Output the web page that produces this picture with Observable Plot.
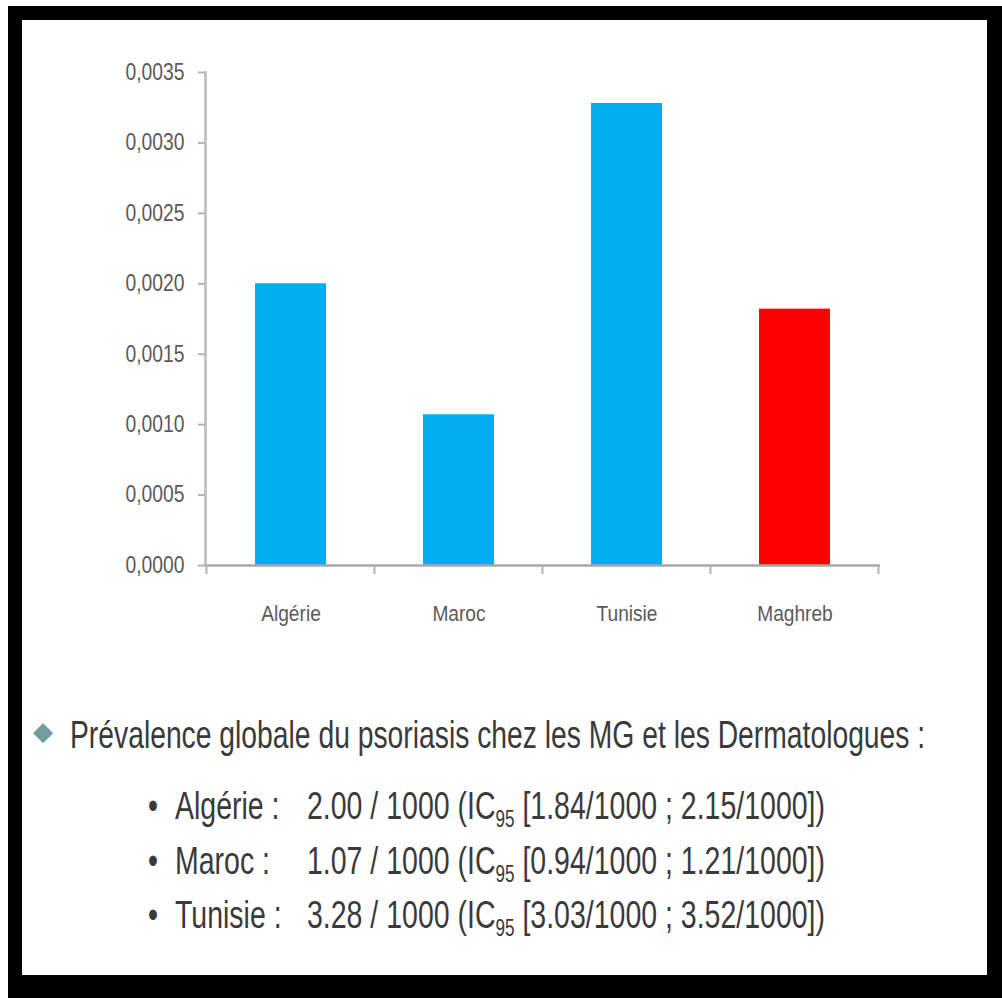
<!DOCTYPE html>
<html lang="fr">
<head>
<meta charset="utf-8">
<script src="https://cdn.jsdelivr.net/npm/d3@7"></script>
<script src="https://cdn.jsdelivr.net/npm/@observablehq/plot@0.6"></script>
<style>
  html, body { margin: 0; padding: 0; background: #fff; }
  #page { position: relative; width: 1002px; height: 998px; background: #fff; overflow: hidden; }
  #frame { position: absolute; left: 8px; top: 6px; right: 0; bottom: 0; background: #000; }
  #sheet { position: absolute; left: 22px; top: 20px; width: 965px; height: 955px; background: #fff; }
  #chart { position: absolute; left: 0; top: 0; }
  .line { position: absolute; white-space: nowrap; font: 39px/39px "Liberation Sans", Arial, sans-serif;
          color: #3a3a3a; transform-origin: 0 0; }
  .sub { font-size: 0.6em; position: relative; top: 0.35em; }
  .diamond { position: absolute; font: 26px/26px "DejaVu Sans", sans-serif; color: #6f9e9c; }
</style>
</head>
<body>
<div id="page">
  <div id="frame"></div>
  <div id="sheet">
    <div id="chart"></div>
    <div id="caption"></div>
  </div>
</div>
<script>
// Prévalence du psoriasis (pour 1000) par pays, et Maghreb
const categories = ["Algérie", "Maroc", "Tunisie", "Maghreb"];
const tauxPour1000 = [2.00, 1.07, 3.28, 1.82];
const yTicks = [0, 0.0005, 0.0010, 0.0015, 0.0020, 0.0025, 0.0030, 0.0035];

// Détail des intervalles de confiance (IC95)
const detailPays = ["Algérie", "Maroc", "Tunisie"];
const detailTaux = [2.00, 1.07, 3.28];
const icBas = [1.84, 0.94, 3.03];
const icHaut = [2.15, 1.21, 3.52];
const titre = "Prévalence globale du psoriasis chez les MG et les Dermatologues :";

const data = categories.map((pays, i) => ({pays, taux: tauxPour1000[i] / 1000}));

const BLUE = "#00aeef";
const RED = "#ff0000";
const AXIS_GRAY = "#a8a8a8";
const LABEL_GRAY = "#5a5a5a";

const chart = Plot.plot({
  width: 965,
  height: 660,
  marginLeft: 183,
  marginRight: 107,
  marginTop: 52,
  marginBottom: 115,
  style: {fontFamily: "'Liberation Sans', Arial, sans-serif", background: "transparent"},
  x: {domain: categories, paddingInner: 0.58, paddingOuter: 0.29, label: null},
  y: {domain: [0, 0.0035], label: null},
  marks: [
    Plot.barY(data, {filter: d => d.pays !== "Maghreb", x: "pays", y: "taux", fill: BLUE}),
    Plot.barY(data, {filter: d => d.pays === "Maghreb", x: "pays", y: "taux", fill: RED}),
    Plot.frame({anchor: "left", stroke: "#c4c4c4", strokeWidth: 3}),
    Plot.ruleY([0], {stroke: AXIS_GRAY, strokeWidth: 2.5}),
    Plot.axisY({
      ticks: yTicks,
      tickFormat: d => d.toFixed(4).replace(".", ","),
      tickSize: 7,
      tickPadding: 14,
      fontSize: 23,
      color: LABEL_GRAY
    }),
    Plot.axisX({tickSize: 0, tickPadding: 40, fontSize: 22, color: LABEL_GRAY})
  ]
});

const svg = d3.select(chart);

// light gray tick marks on the value axis
svg.selectAll('g[aria-label="y-axis tick"] path, g[aria-label="y-axis tick"] line')
  .attr("stroke", "#b4b4b4").attr("stroke-width", 2);

// condensed tick labels: squeeze each label horizontally around its anchor
function squeeze(selector, s) {
  svg.selectAll(selector).each(function () {
    const t = d3.select(this);
    const tr = t.attr("transform");
    if (tr) {
      t.attr("transform", tr + ` scale(${s},1)`);
    } else {
      const x = +t.attr("x") || 0, y = +t.attr("y") || 0;
      t.attr("x", null).attr("y", null).attr("transform", `translate(${x},${y}) scale(${s},1)`);
    }
  });
}
squeeze('g[aria-label="y-axis tick label"] text', 0.84);
squeeze('g[aria-label="x-axis tick label"] text', 0.87);

// category-separator ticks below the baseline, at the band boundaries
const xs = chart.scale("x");
const ys = chart.scale("y");
const y0 = ys.apply(0);
const start = xs.apply(categories[0]) - (xs.step - xs.bandwidth) / 2;
const bounds = d3.range(categories.length + 1).map(i => start + i * xs.step);
svg.append("g")
  .attr("aria-label", "x-axis boundary tick")
  .selectAll("line")
  .data(bounds)
  .join("line")
  .attr("x1", d => d).attr("x2", d => d)
  .attr("y1", y0).attr("y2", y0 + 9)
  .attr("stroke", "#b4b4b4").attr("stroke-width", 2);

document.getElementById("chart").append(chart);

// Caption text block below the chart
const cap = document.getElementById("caption");
function addLine(html, left, baseline) {
  const el = document.createElement("div");
  el.className = "line";
  el.innerHTML = html;
  el.style.left = left + "px";
  el.style.top = (baseline - 33) + "px";
  cap.append(el);
  return el;
}
const dia = document.createElement("div");
dia.className = "diamond";
dia.textContent = "◆";
dia.style.left = "11px";
dia.style.top = "698px";
cap.append(dia);

const head = addLine(titre, 48, 728);
head.style.transform = `scaleX(${855 / head.offsetWidth})`;

const fmt = v => v.toFixed(2);
const baselines = [799, 854, 908];
const rowEls = detailPays.map((p, i) => {
  const b = addLine("•", 126, baselines[i]);
  const l = addLine(p + " :", 153, baselines[i]);
  const v = addLine(`${fmt(detailTaux[i])} / 1000 (IC<span class="sub">95</span> [${fmt(icBas[i])}/1000 ; ${fmt(icHaut[i])}/1000])`, 285, baselines[i]);
  return [b, l, v];
});
const rowScale = 518 / rowEls[0][2].offsetWidth;
rowEls.forEach(els => els.forEach(el => { el.style.transform = `scaleX(${rowScale})`; }));
</script>
</body>
</html>
